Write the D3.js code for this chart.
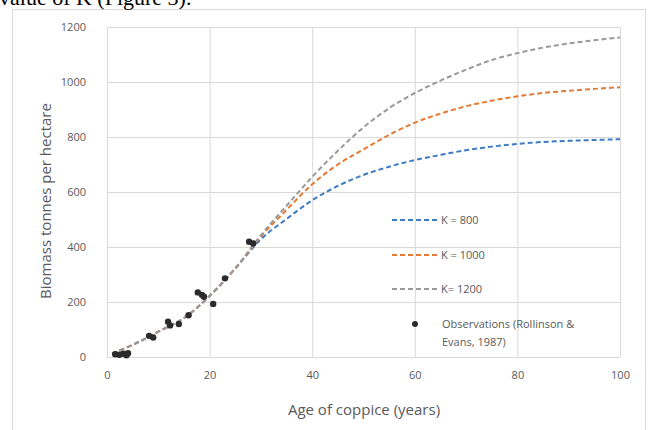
<!DOCTYPE html>
<html lang="en">
    <head>
        <meta charset="utf-8">
        <title>Coppice biomass</title>
        <script src="https://d3js.org/d3.v7.min.js"></script>
        <style type="text/css">
            body { margin: 0; background: #fff; }

            .grid line { stroke: #d9d9d9; stroke-width: 1px; }
            .grid path { stroke: none; }

            .axis text {
                font-family: "Open Sans", sans-serif;
                font-size: 11px;
                fill: #595959;
            }
            .axis path, .axis line { stroke: none; }

            .title {
                font-family: "Open Sans", sans-serif;
                font-size: 15px;
                fill: #595959;
            }

            .legend text {
                font-family: "Open Sans", sans-serif;
                font-size: 11px;
                fill: #595959;
            }

            .curve { fill: none; stroke-width: 2px; stroke-dasharray: 5,3; }
        </style>
    </head>
    <body>
        <script type="text/javascript">

            const w = 649;
            const h = 430;

            // plot area
            const plotLeft = 107, plotRight = 620, plotTop = 27, plotBottom = 357;

            // data
            const xTicks = [0, 20, 40, 60, 80, 100];
            const yTicks = [0, 200, 400, 600, 800, 1000, 1200];

            const ages = [1, 5, 10, 15, 20, 25, 30, 35, 40, 45, 50, 55, 60, 65, 70, 75, 80, 85, 90, 95, 100];
            const k800  = [13, 44, 92, 142, 222, 322, 428, 502, 570, 622, 662, 692, 716, 735, 752, 765, 775, 782, 786, 789, 792];
            const k1000 = [13, 44, 92, 142, 222, 322, 438, 535, 628, 700, 755, 808, 852, 885, 912, 932, 948, 960, 968, 975, 981];
            const k1200 = [13, 44, 92, 142, 222, 322, 443, 550, 655, 750, 835, 905, 960, 1005, 1045, 1080, 1105, 1125, 1140, 1152, 1162];

            const obsAge     = [1.6, 2.4, 3.2, 3.8, 4.1, 8.2, 9.0, 11.9, 12.3, 14.0, 15.9, 17.7, 18.5, 18.9, 20.7, 23.0, 27.7, 28.5];
            const obsBiomass = [10, 8, 12, 6, 14, 77, 71, 128, 115, 120, 152, 235, 226, 219, 193, 286, 419, 413];

            const seriesNames  = ["K = 800", "K = 1000", "K= 1200"];
            const seriesValues = [k800, k1000, k1200];
            const seriesColors = ["#3d7cc4", "#e47a34", "#9a9a9a"];

            const xScale = d3.scaleLinear().domain([0, 100]).range([plotLeft, plotRight]);
            const yScale = d3.scaleLinear().domain([0, 1200]).range([plotBottom, plotTop]);

            const svg = d3.select("body")
                    .append("svg")
                    .attr("width", w)
                    .attr("height", h);

            // chart frame
            svg.append("rect")
               .attr("x", 12.5)
               .attr("y", 9.5)
               .attr("width", 633)
               .attr("height", 430)
               .attr("fill", "#fff")
               .attr("stroke", "#d9d9d9");

            // caption text cut off at the top of the picture (as in the source page)
            svg.append("text")
               .attr("x", -1)
               .attr("y", 5)
               .style("font-family", "'Liberation Serif', serif")
               .style("font-size", "22px")
               .attr("fill", "#000")
               .text("value of K (Figure 3).");

            //gridlines
            svg.append("g")
               .attr("class", "grid")
               .attr("transform", "translate(" + plotLeft + ",0)")
               .call(d3.axisLeft(yScale).tickValues(yTicks).tickSize(-(plotRight - plotLeft)).tickFormat(""));

            svg.append("g")
               .attr("class", "grid")
               .attr("transform", "translate(0," + plotBottom + ")")
               .call(d3.axisBottom(xScale).tickValues(xTicks).tickSize(-(plotBottom - plotTop)).tickFormat(""));

            //axes labels
            svg.append("g")
               .attr("class", "axis")
               .attr("transform", "translate(" + plotLeft + ",0)")
               .call(d3.axisLeft(yScale).tickValues(yTicks).tickSize(0).tickPadding(21).tickFormat(d3.format("d")));

            svg.append("g")
               .attr("class", "axis")
               .attr("transform", "translate(0," + plotBottom + ")")
               .call(d3.axisBottom(xScale).tickValues(xTicks).tickSize(0).tickPadding(14).tickFormat(d3.format("d")));

            svg.append("text")
               .attr("class", "title")
               .attr("text-anchor", "middle")
               .attr("transform", "translate(51," + 201 + ") rotate(-90)")
               .text("Biomass tonnes per hectare");

            svg.append("text")
               .attr("class", "title")
               .attr("text-anchor", "middle")
               .attr("x", 364)
               .attr("y", 415)
               .text("Age of coppice (years)");

            //curves
            const line = d3.line()
                           .x((d, i) => xScale(ages[i]))
                           .y(d => yScale(d))
                           .curve(d3.curveMonotoneX);

            seriesValues.forEach((vals, i) => {
                svg.append("path")
                   .datum(vals)
                   .attr("class", "curve")
                   .attr("stroke", seriesColors[i])
                   .attr("d", line);
            });

            //observations
            svg.append("g")
               .selectAll("circle")
               .data(obsAge)
               .join("circle")
               .attr("cx", d => xScale(d))
               .attr("cy", (d, i) => yScale(obsBiomass[i]))
               .attr("r", 3.2)
               .attr("fill", "#2b2b2b");

            //legend
            const legend = svg.append("g").attr("class", "legend");
            const legendY = [220, 255, 289];

            seriesNames.forEach((name, i) => {
                legend.append("line")
                      .attr("class", "curve")
                      .attr("x1", 392).attr("x2", 438)
                      .attr("y1", legendY[i]).attr("y2", legendY[i])
                      .attr("stroke", seriesColors[i]);
                legend.append("text")
                      .attr("x", 441)
                      .attr("y", legendY[i] + 4)
                      .text(name);
            });

            legend.append("circle")
                  .attr("cx", 415)
                  .attr("cy", 324)
                  .attr("r", 3)
                  .attr("fill", "#2b2b2b");
            legend.append("text")
                  .attr("x", 442)
                  .attr("y", 328)
                  .text("Observations (Rollinson &");
            legend.append("text")
                  .attr("x", 442)
                  .attr("y", 346)
                  .text("Evans, 1987)");

        </script>
    </body>
</html>
